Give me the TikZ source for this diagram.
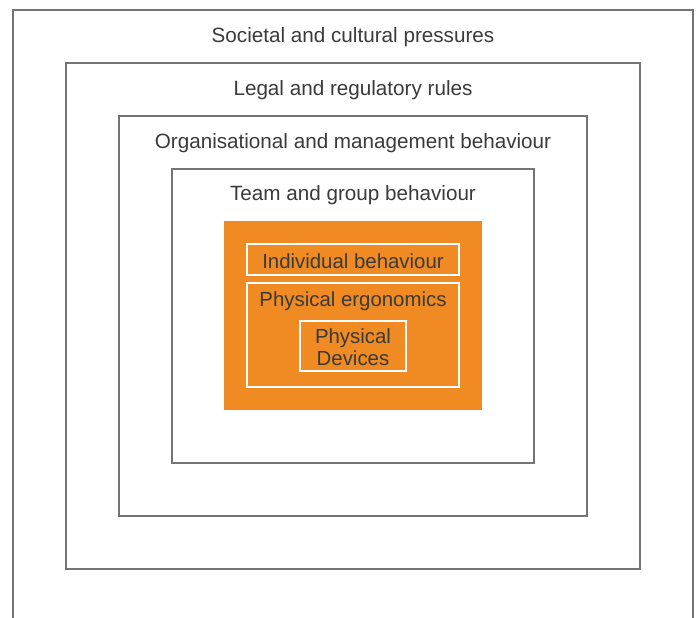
\documentclass[tikz,border=0pt]{standalone}
\usepackage{fontspec}
\setmainfont{Liberation Sans}
\definecolor{frame}{HTML}{747474}
\definecolor{txt}{HTML}{3A3A3A}
\definecolor{orng}{HTML}{F08A22}
\begin{document}
\begin{tikzpicture}[x=0.75pt,y=-0.75pt,
  framebox/.style={draw=frame,line width=0.9pt},
  whitebox/.style={draw=white,line width=0.8pt},
  lbl/.style={text=txt,font=\fontsize{15.5}{17}\selectfont,inner sep=0pt},
  lbls/.style={text=txt,font=\fontsize{15.3}{16.5}\selectfont,inner sep=0pt,align=center}]
\useasboundingbox (0,0) rectangle (699,617);
\draw[framebox] (13,620) -- (13,10) -- (693,10) -- (693,620);
\draw[framebox] (66,63) rectangle (640,569);
\draw[framebox] (119,116) rectangle (587,516);
\draw[framebox] (172,169) rectangle (534,463);
\fill[orng] (224,221) rectangle (482,410);
\draw[whitebox] (247,244) rectangle (459,275);
\draw[whitebox] (247,283) rectangle (459,387);
\draw[whitebox] (300,321) rectangle (406,371);
\node[lbl] (soc) at (353,37) {Societal and cultural pressures};
\node[lbl] (leg) at (353,90) {Legal and regulatory rules};
\node[lbl] (org) at (353,143) {Organisational and management behaviour};
\node[lbl] (team) at (353,195) {Team and group behaviour};
\node[lbls] (ind) at (353,261) {Individual behaviour};
\node[lbls] (erg) at (353,301) {Physical ergonomics};
\node[lbls] (dev) at (353,347) {Physical\\Devices};
\end{tikzpicture}
\end{document}
